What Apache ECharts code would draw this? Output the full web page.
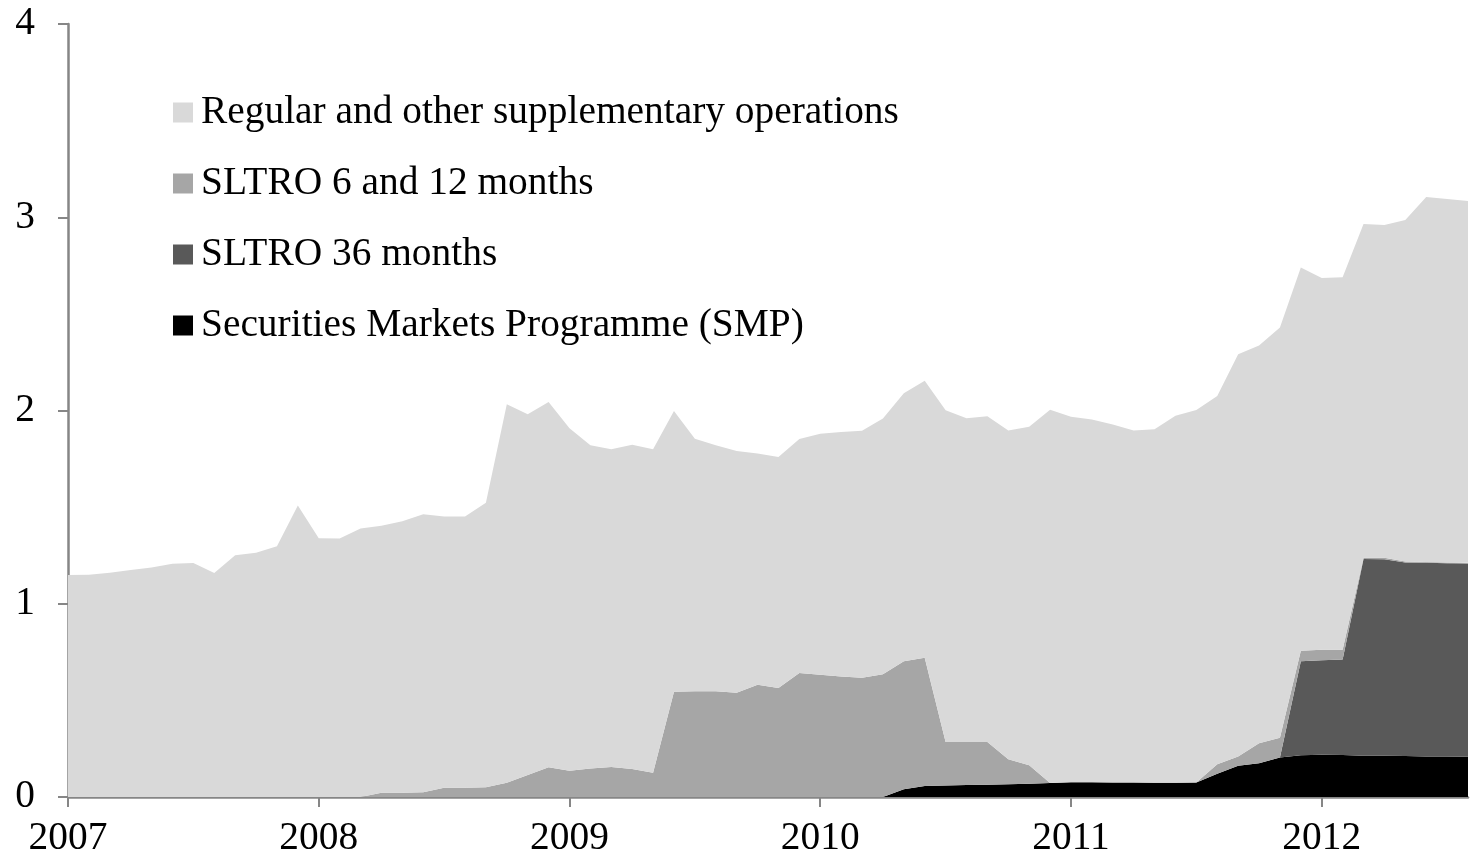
<!DOCTYPE html>
<html>
<head>
    <meta charset="utf-8">
    <script src="https://cdn.jsdelivr.net/npm/echarts@6/dist/echarts.min.js"></script>
    <style>
        html, body { margin: 0; padding: 0; background: #fff; }
        #main { width: 1475px; height: 861px; }
    </style>
</head>
<body>
<div id="main"></div>

<script type="text/javascript">

    // year labels on the x axis, one category per month (Jan 2007 .. Aug 2012)
    var years = ['2007', '2008', '2009', '2010', '2011', '2012'];
    var lastMonth = 8;

    // values, one per month
    var regularOps = [1.149, 1.150, 1.161, 1.175, 1.187, 1.207, 1.211, 1.159, 1.251, 1.264, 1.297, 1.509,
        1.339, 1.337, 1.390, 1.382, 1.405, 1.439, 1.403, 1.403, 1.473, 1.958, 1.866, 1.890,
        1.772, 1.673, 1.645, 1.678, 1.674, 1.452, 1.307, 1.273, 1.250, 1.197, 1.195, 1.210,
        1.247, 1.266, 1.278, 1.323, 1.387, 1.434, 1.716, 1.675, 1.685, 1.702, 1.752, 1.932,
        1.892, 1.878, 1.852, 1.821, 1.829, 1.899, 1.928, 1.906, 2.082, 2.058, 2.123, 1.983,
        1.924, 1.928, 1.727, 1.722, 1.768, 1.889, 1.880, 1.872];
    var sltro612 = [0, 0, 0, 0, 0, 0, 0, 0, 0, 0, 0, 0,
        0, 0, 0, 0.022, 0.022, 0.024, 0.048, 0.048, 0.050, 0.074, 0.114, 0.154,
        0.136, 0.147, 0.155, 0.145, 0.126, 0.545, 0.547, 0.547, 0.540, 0.581, 0.564, 0.642,
        0.633, 0.623, 0.617, 0.635, 0.662, 0.663, 0.225, 0.223, 0.221, 0.129, 0.096, 0,
        0, 0, 0, 0, 0, 0, 0, 0.049, 0.047, 0.104, 0.102, 0.055,
        0.055, 0.051, 0.006, 0.008, 0.004, 0.004, 0.004, 0.004];
    var sltro36 = [0, 0, 0, 0, 0, 0, 0, 0, 0, 0, 0, 0,
        0, 0, 0, 0, 0, 0, 0, 0, 0, 0, 0, 0,
        0, 0, 0, 0, 0, 0, 0, 0, 0, 0, 0, 0,
        0, 0, 0, 0, 0, 0, 0, 0, 0, 0, 0, 0,
        0, 0, 0, 0, 0, 0, 0, 0, 0, 0, 0, 0.486,
        0.488, 0.494, 1.018, 1.016, 1.002, 1.002, 1.000, 1.000];
    var smp = [0, 0, 0, 0, 0, 0, 0, 0, 0, 0, 0, 0,
        0, 0, 0, 0, 0, 0, 0, 0, 0, 0, 0, 0,
        0, 0, 0, 0, 0, 0, 0, 0, 0, 0, 0, 0,
        0, 0, 0, 0, 0.040, 0.057, 0.060, 0.062, 0.064, 0.066, 0.068, 0.072,
        0.076, 0.076, 0.075, 0.075, 0.074, 0.074, 0.075, 0.120, 0.162, 0.174, 0.205, 0.216,
        0.219, 0.217, 0.214, 0.214, 0.212, 0.210, 0.210, 0.208];

    var names = ['Regular and other supplementary operations', 'SLTRO 6 and 12 months',
        'SLTRO 36 months', 'Securities Markets Programme (SMP)'];

    // month categories
    var months = [];
    for (var y = 0; y < years.length; y++) {
        for (var m = 1; m <= 12; m++) {
            if (y === years.length - 1 && m > lastMonth) break;
            months.push(years[y] + '-' + (m < 10 ? '0' + m : m));
        }
    }

    var font = 'Liberation Serif, Times New Roman, serif';
    var fontSize = 39.4;
    var axisGrey = '#868686';

    function area(name, color, data) {
        return {
            name: name,
            type: 'line',
            stack: 'total',
            data: data,
            showSymbol: false,
            symbol: 'none',
            color: color,
            lineStyle: {width: 0},
            areaStyle: {color: color, opacity: 1},
            itemStyle: {color: color}
        };
    }

    var myChart = echarts.init(document.getElementById('main'));
    var option = {
        animation: false,
        grid: {left: 68, right: 7, top: 24, bottom: 64},
        legend: {
            orient: 'vertical',
            left: 173,
            top: 93,
            padding: 0,
            itemGap: 32,
            itemWidth: 20,
            itemHeight: 20,
            icon: 'rect',
            itemStyle: {borderWidth: 0},
            textStyle: {fontFamily: font, fontSize: fontSize, color: '#000', padding: [0, 0, 0, 3]},
            data: names
        },
        xAxis: {
            type: 'category',
            boundaryGap: false,
            data: months,
            axisLine: {lineStyle: {color: axisGrey, width: 2.5}},
            axisTick: {
                length: 10,
                lineStyle: {color: axisGrey, width: 2},
                interval: function (i) { return i % 12 === 0; }
            },
            axisLabel: {
                interval: function (i) { return i % 12 === 0; },
                formatter: function (v) { return v.substring(0, 4); },
                fontFamily: font,
                fontSize: fontSize,
                color: '#000',
                margin: 22
            },
            splitLine: {show: false}
        },
        yAxis: {
            type: 'value',
            min: 0,
            max: 4,
            interval: 1,
            axisLine: {show: true, lineStyle: {color: axisGrey, width: 2.5}},
            axisTick: {show: true, length: 10, lineStyle: {color: axisGrey, width: 2}},
            axisLabel: {fontFamily: font, fontSize: fontSize, color: '#000', margin: 33},
            splitLine: {show: false}
        },
        series: [
            area(names[3], '#000000', smp),
            area(names[2], '#595959', sltro36),
            area(names[1], '#a6a6a6', sltro612),
            area(names[0], '#d9d9d9', regularOps)
        ]
    };
    myChart.setOption(option);

</script>
</body>
</html>
